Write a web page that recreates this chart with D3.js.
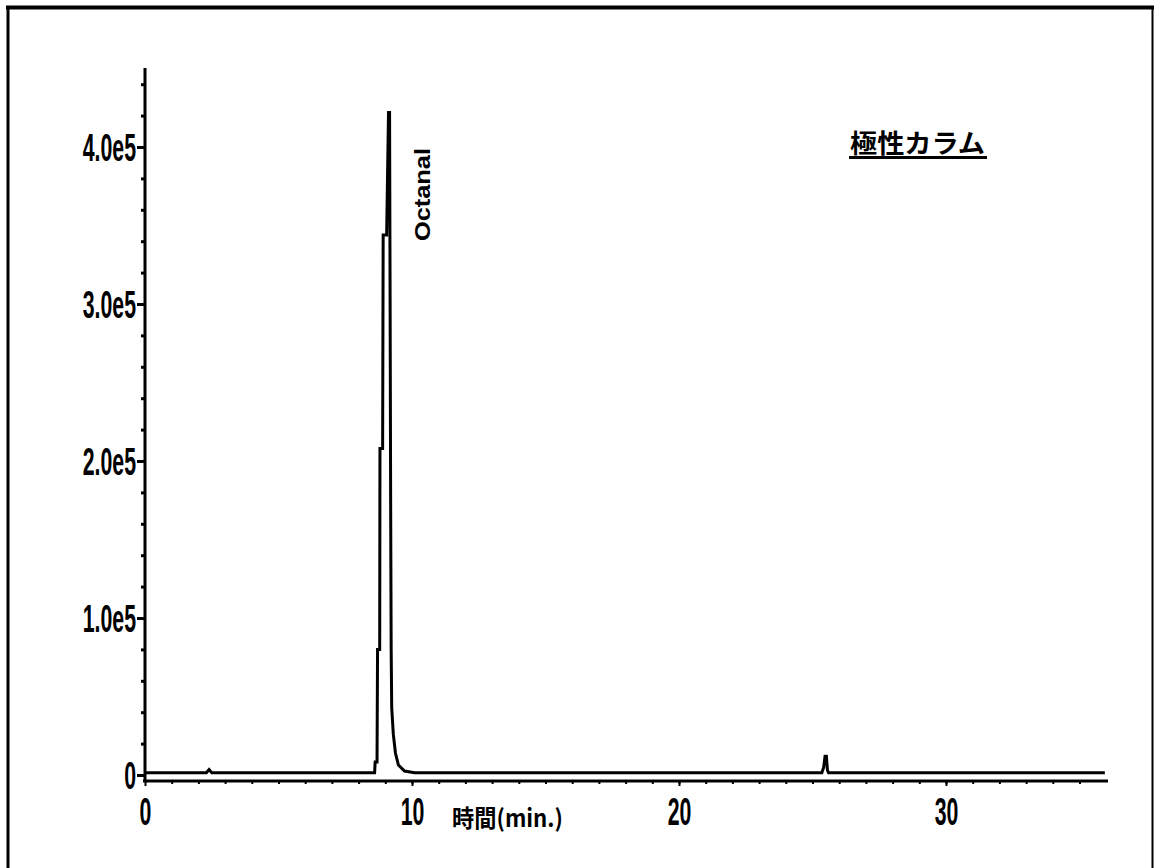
<!DOCTYPE html>
<meta charset="utf-8">
<style>
    body { margin: 0; background: #fff; }
    .tick-label { font: bold 38px "Liberation Sans", Arial, sans-serif; fill: #000; }
    .trace { fill: none; stroke: #000; stroke-width: 3px; stroke-linejoin: miter; }
</style>
<svg id="svg" width="1154" height="868"></svg>
<script src="https://d3js.org/d3.v7.min.js"></script>
<script>
// retention time (min) / detector response
var times = [0, 2.3, 2.4, 2.5, 8.6, 8.62, 8.69, 8.71, 8.79, 8.8, 8.9, 8.92, 9.05, 9.12, 9.16,
             9.18, 9.2, 9.22, 9.24, 9.3, 9.38, 9.49, 9.72, 10.1,
             25.35, 25.42, 25.47, 25.52, 25.56, 25.6, 35.95];
var counts = [1500, 1500, 3500, 1500, 1500, 8300, 8300, 80000, 80000, 208000, 208000, 344000, 344000, 422000, 422000,
              303000, 175000, 80000, 43000, 26000, 14000, 6400, 2500, 1500,
              1500, 5000, 12000, 12000, 3000, 1500, 1500];

var xTicks = [0, 10, 20, 30];
var xLabels = ["0", "10", "20", "30"];
var yTicks = [0, 1e5, 2e5, 3e5, 4e5];
var yLabels = ["0", "1.0e5", "2.0e5", "3.0e5", "4.0e5"];
var peakName = "Octanal";
var peakTime = 9.14;
var columnTitle = "極性カラム";
var xTitle = "時間(min.)";

var svg = d3.select("#svg");

var x = d3.scaleLinear().domain([0, 30]).range([145, 946]);
var y = d3.scaleLinear().domain([0, 4e5]).range([775, 147]);

// page frame
svg.append("line").attr("x1", 6).attr("x2", 1154).attr("y1", 7.5).attr("y2", 7.5)
    .attr("stroke", "#000").attr("stroke-width", 4);
svg.append("line").attr("x1", 8).attr("x2", 8).attr("y1", 6).attr("y2", 868)
    .attr("stroke", "#000").attr("stroke-width", 3);
svg.append("line").attr("x1", 1152.5).attr("x2", 1152.5).attr("y1", 6).attr("y2", 868)
    .attr("stroke", "#000").attr("stroke-width", 2);

var axisY = 781;

// y axis: minor ticks every 2e4, major with labels
var gyMinor = svg.append("g").attr("transform", "translate(" + x(0) + ",0)")
    .call(d3.axisLeft(y).tickValues(d3.range(2e4, 4.5e5, 2e4)).tickSize(4).tickFormat(""));
var gy = svg.append("g").attr("transform", "translate(" + x(0) + ",0)")
    .call(d3.axisLeft(y).tickValues(yTicks).tickSize(8).tickFormat(function(d, i) { return yLabels[i]; }));
svg.selectAll(".domain").remove();
gyMinor.selectAll("line").attr("stroke", "#000").attr("stroke-width", 3);
gy.selectAll("line").attr("stroke", "#000").attr("stroke-width", 3);
gy.selectAll("text")
    .attr("class", "tick-label")
    .attr("x", -9 / 0.56)
    .attr("dy", "0.36em")
    .attr("transform", "scale(0.56,1)");
gy.append("line").attr("x1", 0).attr("x2", 0).attr("y1", 68).attr("y2", axisY + 1)
    .attr("stroke", "#000").attr("stroke-width", 3);

// x axis
var gxMinor = svg.append("g").attr("transform", "translate(0," + axisY + ")")
    .call(d3.axisBottom(x).tickValues(d3.range(1, 36, 1)).tickSize(3).tickFormat(""));
var gx = svg.append("g").attr("transform", "translate(0," + axisY + ")")
    .call(d3.axisBottom(x).tickValues(xTicks).tickSize(5).tickFormat(function(d, i) { return xLabels[i]; }));
svg.selectAll(".domain").remove();
gxMinor.selectAll("line").attr("stroke", "#000").attr("stroke-width", 2);
gx.selectAll("line").attr("stroke", "#000").attr("stroke-width", 2);
gx.selectAll("text")
    .attr("class", "tick-label")
    .attr("y", 17)
    .attr("dy", "0.72em")
    .attr("transform", "scale(0.56,1)");
gx.append("line").attr("x1", x(0) - 2).attr("x2", 1108).attr("y1", 0).attr("y2", 0)
    .attr("stroke", "#000").attr("stroke-width", 3);

svg.append("text")
    .attr("x", 452).attr("y", 827)
    .attr("textLength", 111).attr("lengthAdjust", "spacingAndGlyphs")
    .style("font", "bold 24px 'Noto Sans CJK JP', sans-serif")
    .text(xTitle);

// chromatogram trace
var line = d3.line()
    .x(function(d, i) { return x(times[i]); })
    .y(function(d) { return y(d); });

svg.append("path")
    .datum(counts)
    .attr("class", "trace")
    .attr("d", line);

// peak label
svg.append("text")
    .attr("transform", "translate(" + (x(peakTime) + 41) + ",241) rotate(-90)")
    .attr("textLength", 93).attr("lengthAdjust", "spacingAndGlyphs")
    .style("font", "bold 22px 'Liberation Sans', Arial, sans-serif")
    .text(peakName);

// column title
svg.append("text")
    .attr("x", 850).attr("y", 153)
    .attr("textLength", 135).attr("lengthAdjust", "spacingAndGlyphs")
    .style("font", "bold 26px 'Noto Sans CJK JP', sans-serif")
    .text(columnTitle);
svg.append("line").attr("x1", 849).attr("x2", 987).attr("y1", 157.5).attr("y2", 157.5)
    .attr("stroke", "#000").attr("stroke-width", 3);
</script>
